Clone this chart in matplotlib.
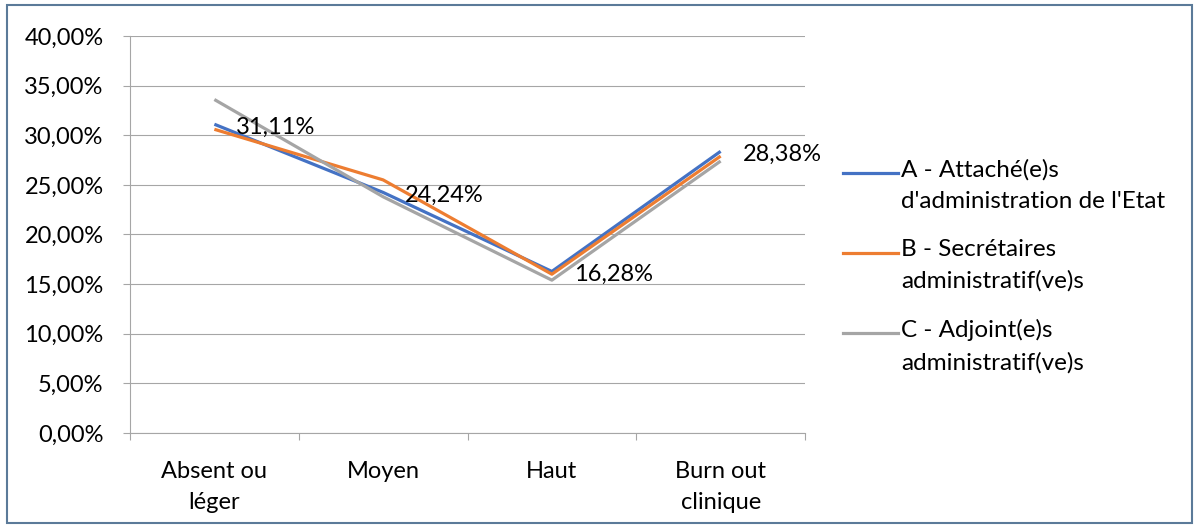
import matplotlib.pyplot as plt
from matplotlib.lines import Line2D
from matplotlib.patches import Rectangle
from matplotlib.ticker import FuncFormatter, FixedLocator

plt.rcParams['font.family'] = ['Lato', 'DejaVu Sans']

categories = ['Absent ou\nléger', 'Moyen', 'Haut', 'Burn out\nclinique']
serie_a = [31.11, 24.24, 16.28, 28.38]
serie_b = [30.6, 25.5, 16.0, 27.9]
serie_c = [33.6, 23.8, 15.4, 27.4]
noms = ["A - Attaché(e)s\nd'administration de l'Etat",
        "B - Secrétaires\nadministratif(ve)s",
        "C - Adjoint(e)s\nadministratif(ve)s"]
couleurs = ['#4472C4', '#ED7D31', '#A5A5A5']

W, H = 1198, 528
fs = 17

fig = plt.figure(figsize=(W / 100, H / 100), dpi=100)
ax = fig.add_axes([130/W, 95/H, 675/W, 397/H])

x = list(range(len(categories)))
for vals, c in zip([serie_a, serie_b, serie_c], couleurs):
    ax.plot(x, vals, color=c, lw=2.3, solid_capstyle='butt', zorder=3)

# etiquettes de la serie A
for xi, v in zip(x, serie_a):
    ax.annotate(('%.2f%%' % v).replace('.', ','), (xi, v), xytext=(22, -3),
                textcoords='offset pixels', ha='left', va='center', fontsize=fs,
                color='black', zorder=4)

ax.set_ylim(0, 40)
ax.set_xlim(-0.5, 3.5)
ax.set_yticks(range(0, 41, 5))
ax.yaxis.set_major_formatter(FuncFormatter(lambda v, p: ('%.2f%%' % v).replace('.', ',')))
ax.grid(axis='y', color='#A6A6A6', lw=0.8, zorder=0)
ax.set_axisbelow(True)

ax.xaxis.set_major_locator(FixedLocator([-0.5, 0.5, 1.5, 2.5, 3.5]))
ax.xaxis.set_minor_locator(FixedLocator(x))
ax.set_xticklabels([], minor=False)
ax.set_xticklabels(categories, minor=True, linespacing=1.6)
ax.tick_params(axis='x', which='major', length=5, color='#A6A6A6', width=0.8)
ax.tick_params(axis='x', which='minor', length=0, pad=20, labelsize=fs)
ax.tick_params(axis='y', length=5, color='#A6A6A6', width=0.8, pad=14, labelsize=fs)

for s in ['top', 'right']:
    ax.spines[s].set_visible(False)
for s in ['left', 'bottom']:
    ax.spines[s].set_color('#A6A6A6')
    ax.spines[s].set_linewidth(0.8)

# legende
ys = [173, 253, 333]
for nom, c, y in zip(noms, couleurs, ys):
    fy = 1 - y / H
    fig.add_artist(Line2D([843/W, 898/W], [fy, fy], color=c, lw=2.3,
                          transform=fig.transFigure))
    fig.text(901/W, fy + 14/H, nom, ha='left', va='top', fontsize=17.5,
             linespacing=1.6)

fig.add_artist(Rectangle((7/W, 5/H), 1185/W, 518/H, fill=False,
                         edgecolor='#5B7A99', lw=1.5, transform=fig.transFigure))

fig.savefig('out.png', dpi=100)
